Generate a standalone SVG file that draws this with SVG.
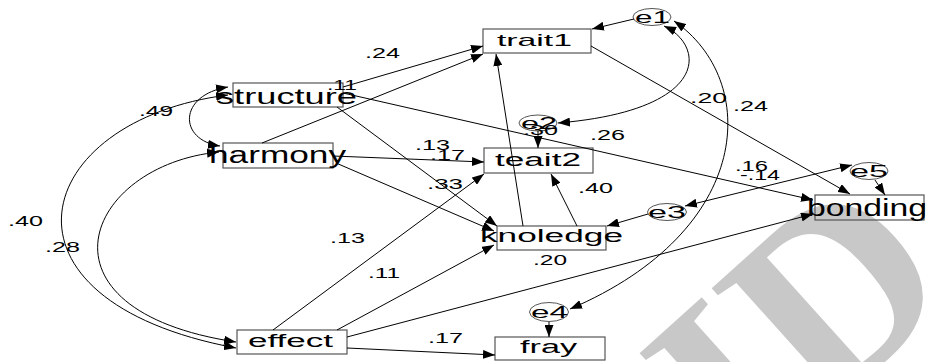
<svg xmlns="http://www.w3.org/2000/svg" width="930" height="362" viewBox="0 0 930 362">
<style>
text{font-family:"Liberation Sans",Arial,sans-serif;fill:#000}
.box{fill:none;stroke:#555;stroke-width:1.2}
.ell{fill:none;stroke:#555;stroke-width:1}
.lb{font-size:14px}
.el{font-size:17px}
.c{fill:none;stroke:#000;stroke-width:1}
.a{marker-end:url(#ah)}
.d{marker-start:url(#ah);marker-end:url(#ah)}
.wm{font-family:"Liberation Serif",serif;font-size:260px;font-weight:bold;fill:#c8c8c8}
</style>
<defs>
<marker id="ah" markerUnits="userSpaceOnUse" markerWidth="13" markerHeight="9" refX="12" refY="4.5" orient="auto-start-reverse"><path d="M0,0 L12,4.5 L0,9 z" fill="#000"/></marker>
</defs>
<rect width="930" height="362" fill="#fff"/>
<text class="wm" transform="translate(500,708) rotate(-42)">CSID</text>

<g id="trait1"><rect class="box" x="483" y="29" width="108" height="24"/><text x="497" y="46" font-size="17" textLength="75" lengthAdjust="spacingAndGlyphs">trait1</text></g>
<g id="structure"><rect class="box" x="233" y="83" width="110" height="24"/><text x="216" y="104" font-size="22" textLength="141" lengthAdjust="spacingAndGlyphs">structure</text></g>
<g id="harmony"><rect class="box" x="223" y="143" width="110" height="25"/><text x="209" y="163" font-size="23" textLength="137" lengthAdjust="spacingAndGlyphs">harmony</text></g>
<g id="teait2"><rect class="box" x="484" y="148" width="109" height="25"/><text x="495" y="166" font-size="18" textLength="86" lengthAdjust="spacingAndGlyphs">teait2</text></g>
<g id="knoledge"><rect class="box" x="497" y="226" width="109" height="24"/><text x="480" y="242" font-size="18" textLength="143" lengthAdjust="spacingAndGlyphs">knoledge</text></g>
<g id="bonding"><rect class="box" x="815" y="195" width="109" height="25"/><text x="807" y="216" font-size="23" textLength="120" lengthAdjust="spacingAndGlyphs">bonding</text></g>
<g id="effect"><rect class="box" x="237" y="330" width="110" height="24"/><text x="248" y="347" font-size="18" textLength="85" lengthAdjust="spacingAndGlyphs">effect</text></g>
<g id="fray"><rect class="box" x="495" y="337" width="110" height="23"/><text x="520" y="353" font-size="18" textLength="57" lengthAdjust="spacingAndGlyphs">fray</text></g>
<g id="e1"><ellipse class="ell" cx="652" cy="17" rx="19" ry="8.5"/><text class="el" x="635" y="23" textLength="35" lengthAdjust="spacingAndGlyphs">e1</text></g>
<g id="e2"><ellipse class="ell" cx="538" cy="123" rx="19" ry="8"/><text class="el" x="521" y="129" textLength="36" lengthAdjust="spacingAndGlyphs">e2</text></g>
<g id="e3"><ellipse class="ell" cx="667" cy="212" rx="19.5" ry="8.5"/><text class="el" x="648" y="218" textLength="38" lengthAdjust="spacingAndGlyphs">e3</text></g>
<g id="e4"><ellipse class="ell" cx="549" cy="312" rx="19.5" ry="9.5"/><text class="el" x="531" y="318" textLength="37" lengthAdjust="spacingAndGlyphs">e4</text></g>
<g id="e5"><ellipse class="ell" cx="869" cy="171" rx="19" ry="8.5"/><text class="el" x="850" y="177" textLength="38" lengthAdjust="spacingAndGlyphs">e5</text></g>

<g id="connectors">
<path class="c a" d="M343,87 L483,46"/>
<path class="c a" d="M262,143 L483,54"/>
<path class="c a" d="M523,226 L496,54"/>
<path class="c a" d="M577,226 L551,174"/>
<path class="c a" d="M538,131 L538,148"/>
<path class="c a" d="M333,156 L484,162"/>
<path class="c a" d="M337,107 L497,226"/>
<path class="c a" d="M336,163 L494,231"/>
<path class="c a" d="M273,330 L484,174"/>
<path class="c a" d="M337,330 L494,245"/>
<path class="c a" d="M347,337 L813,214"/>
<path class="c a" d="M347,348 L495,355"/>
<path class="c a" d="M549,322 L549,337"/>
<path class="c a" d="M343,93 L813,200"/>
<path class="c a" d="M591,46 L850,194"/>
<path class="c a" d="M875,180 L885,195"/>
<path class="c a" d="M648,214 L607,226"/>
<path class="c a" d="M634,19 L592,29"/>
<path class="c d" d="M664,26 C705,45 712,110 558,123"/>
<path class="c d" d="M674,21 C760,80 755,230 570,309"/>
<path class="c d" d="M685,206 L852,165"/>
<path class="c d" d="M228,87 C178,95 178,140 220,146"/>
<path class="c d" d="M228,95 C30,120 -20,300 236,348"/>
<path class="c d" d="M219,152 C85,165 25,310 236,342"/>
</g>

<g id="labels">
<text class="lb" x="365" y="58" textLength="35" lengthAdjust="spacingAndGlyphs">.24</text>
<text class="lb" x="327" y="90" textLength="30" lengthAdjust="spacingAndGlyphs">.11</text>
<text class="lb" x="139" y="116" textLength="34" lengthAdjust="spacingAndGlyphs">.49</text>
<text class="lb" x="415" y="150" textLength="35" lengthAdjust="spacingAndGlyphs">.13</text>
<text class="lb" x="430" y="160" textLength="35" lengthAdjust="spacingAndGlyphs">.17</text>
<text class="lb" x="523" y="135" textLength="35" lengthAdjust="spacingAndGlyphs">.30</text>
<text class="lb" x="590" y="140" textLength="35" lengthAdjust="spacingAndGlyphs">.26</text>
<text class="lb" x="690" y="103" textLength="37" lengthAdjust="spacingAndGlyphs">.20</text>
<text class="lb" x="733" y="111" textLength="35" lengthAdjust="spacingAndGlyphs">.24</text>
<text class="lb" x="735" y="171" textLength="33" lengthAdjust="spacingAndGlyphs">.16</text>
<text class="lb" x="740" y="180" textLength="40" lengthAdjust="spacingAndGlyphs">-.14</text>
<text class="lb" x="427" y="189" textLength="36" lengthAdjust="spacingAndGlyphs">.33</text>
<text class="lb" x="578" y="193" textLength="35" lengthAdjust="spacingAndGlyphs">.40</text>
<text class="lb" x="8" y="226" textLength="35" lengthAdjust="spacingAndGlyphs">.40</text>
<text class="lb" x="45" y="252" textLength="35" lengthAdjust="spacingAndGlyphs">.28</text>
<text class="lb" x="330" y="243" textLength="35" lengthAdjust="spacingAndGlyphs">.13</text>
<text class="lb" x="368" y="278" textLength="32" lengthAdjust="spacingAndGlyphs">.11</text>
<text class="lb" x="533" y="265" textLength="34" lengthAdjust="spacingAndGlyphs">.20</text>
<text class="lb" x="428" y="343" textLength="35" lengthAdjust="spacingAndGlyphs">.17</text>
</g>
</svg>
